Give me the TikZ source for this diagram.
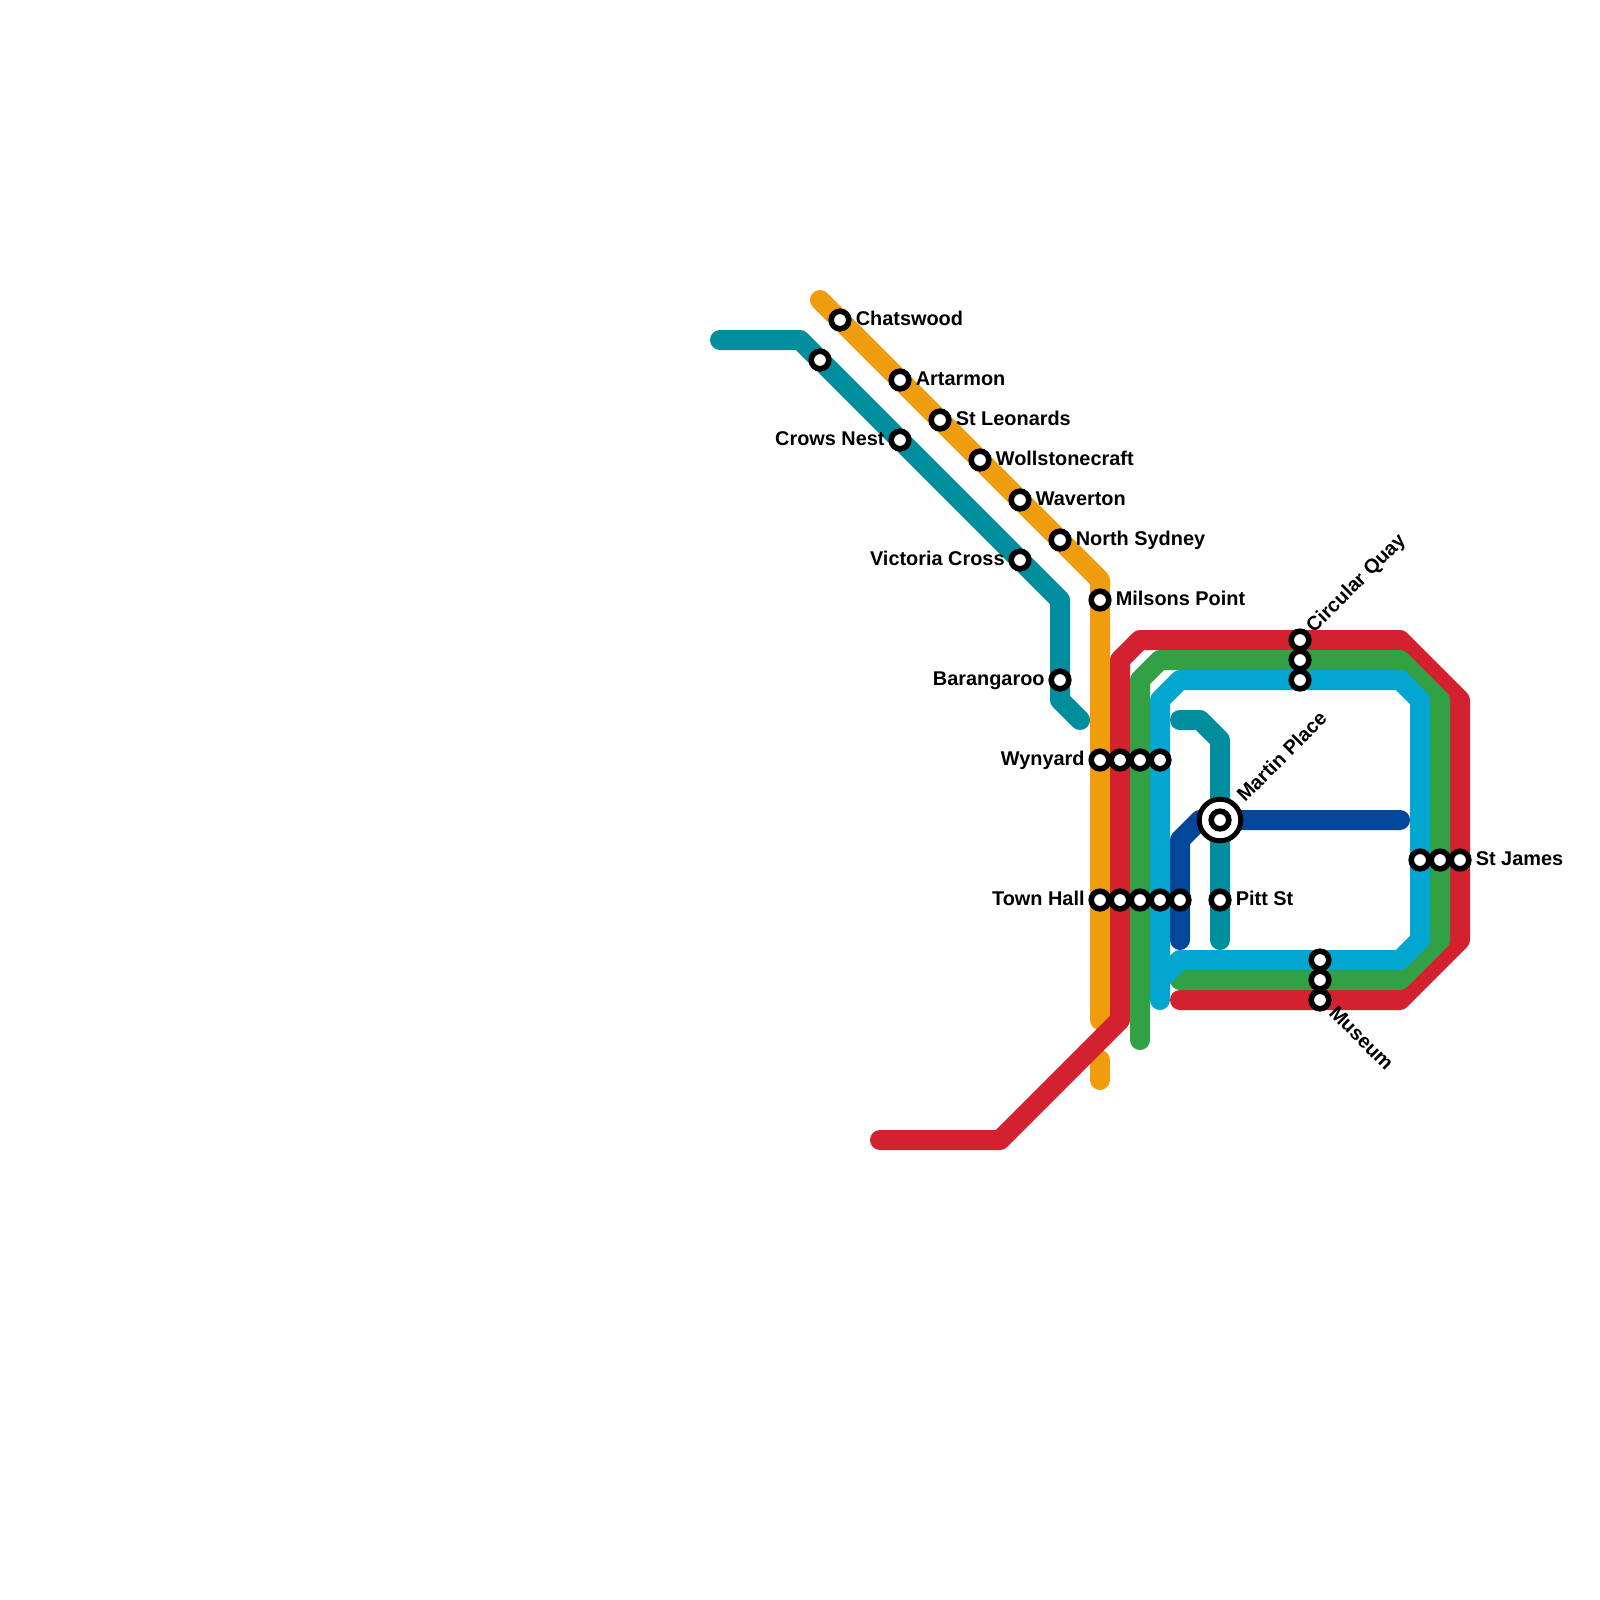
\documentclass[tikz,border=0pt]{standalone}
\usepackage{fontspec}
\setmainfont{Liberation Sans}
\definecolor{mOrange}{HTML}{EF9C0F}
\definecolor{mTeal}{HTML}{008E9F}
\definecolor{mRed}{HTML}{D4212F}
\definecolor{mGreen}{HTML}{32A044}
\definecolor{mBlue}{HTML}{03A6D1}
\definecolor{mNavy}{HTML}{03479A}
\begin{document}
\begin{tikzpicture}[x=5mm, y=-5mm,
  route/.style={line width=5mm, line cap=round, line join=round},
  stn/.style={circle, draw=black, fill=white, line width=1.4mm, minimum size=4.4mm, inner sep=0pt, outer sep=0pt},
  hub/.style={circle, draw=black, fill=white, line width=1.25mm, minimum size=10.4mm, inner sep=0pt, outer sep=0pt},
  stname/.style={font=\fontsize{14.15pt}{16pt}\selectfont\bfseries, inner sep=0pt},
  nameright/.style={stname, anchor=base west, xshift=4.8pt, yshift=-3.8pt},
  nameleft/.style={stname, anchor=base east, xshift=-4.5pt, yshift=-3.8pt},
]
  \useasboundingbox (0,0) rectangle (80,80);
  \fill[white] (0,0) rectangle (80,80);
  % bends and ends of the lines
  \coordinate (o1) at (41,15); \coordinate (o2) at (55,29); \coordinate (o3) at (55,51);
  \coordinate (o4) at (55,53); \coordinate (o5) at (55,54);
  \coordinate (t1) at (36,17); \coordinate (t2) at (40,17); \coordinate (t3) at (53,30);
  \coordinate (t4) at (53,35); \coordinate (t5) at (54,36);
  \coordinate (t6) at (59,36); \coordinate (t7) at (60,36); \coordinate (t8) at (61,37);
  \coordinate (t9) at (61,47);
  \coordinate (r1) at (44,57); \coordinate (r2) at (50,57); \coordinate (r3) at (56,51);
  \coordinate (r4) at (56,33); \coordinate (r5) at (57,32); \coordinate (r6) at (70,32);
  \coordinate (r7) at (73,35); \coordinate (r8) at (73,47); \coordinate (r9) at (70,50);
  \coordinate (r10) at (59,50);
  \coordinate (g1) at (57,52); \coordinate (g2) at (57,34); \coordinate (g3) at (58,33);
  \coordinate (g4) at (70,33); \coordinate (g5) at (72,35); \coordinate (g6) at (72,47);
  \coordinate (g7) at (70,49); \coordinate (g8) at (59,49);
  \coordinate (b1) at (58,50); \coordinate (b2) at (58,35); \coordinate (b3) at (59,34);
  \coordinate (b4) at (70,34); \coordinate (b5) at (71,35); \coordinate (b6) at (71,47);
  \coordinate (b7) at (70,48); \coordinate (b8) at (59,48); \coordinate (b9) at (58,49);
  \coordinate (n1) at (59,47); \coordinate (n2) at (59,42); \coordinate (n3) at (60,41);
  \coordinate (n4) at (70,41);
  % lines
  \draw[route, mOrange] (o1) -- (o2) -- (o3);
  \draw[route, mOrange] (o4) -- (o5);
  \draw[route, mTeal] (t1) -- (t2) -- (t3) -- (t4) -- (t5);
  \draw[route, mTeal] (t6) -- (t7) -- (t8) -- (t9);
  \draw[route, mRed] (r1) -- (r2) -- (r3) -- (r4) -- (r5) -- (r6) -- (r7) -- (r8) -- (r9) -- (r10);
  \draw[route, mGreen] (g1) -- (g2) -- (g3) -- (g4) -- (g5) -- (g6) -- (g7) -- (g8);
  \draw[route, mBlue] (b1) -- (b2) -- (b3) -- (b4) -- (b5) -- (b6) -- (b7) -- (b8) -- (b9);
  \draw[route, mNavy] (n1) -- (n2) -- (n3) -- (n4);
  % stations
  \node[stn] (chatswood) at (42,16) {};
  \node[stn] (artarmon) at (45,19) {};
  \node[stn] (stleonards) at (47,21) {};
  \node[stn] (wollstonecraft) at (49,23) {};
  \node[stn] (waverton) at (51,25) {};
  \node[stn] (northsydney) at (53,27) {};
  \node[stn] (milsons) at (55,30) {};
  \node[stn] (tealtop) at (41,18) {};
  \node[stn] (crowsnest) at (45,22) {};
  \node[stn] (victoriacross) at (51,28) {};
  \node[stn] (barangaroo) at (53,34) {};
  \node[stn] (wynyardA) at (55,38) {};
  \node[stn] (wynyardB) at (56,38) {};
  \node[stn] (wynyardC) at (57,38) {};
  \node[stn] (wynyardD) at (58,38) {};
  \node[stn] (townhallA) at (55,45) {};
  \node[stn] (townhallB) at (56,45) {};
  \node[stn] (townhallC) at (57,45) {};
  \node[stn] (townhallD) at (58,45) {};
  \node[stn] (townhallE) at (59,45) {};
  \node[stn] (pittst) at (61,45) {};
  \node[hub] (martinouter) at (61,41) {};
  \node[stn] (martinplace) at (61,41) {};
  \node[stn] (quayA) at (65,32) {};
  \node[stn] (quayB) at (65,33) {};
  \node[stn] (quayC) at (65,34) {};
  \node[stn] (museumA) at (66,48) {};
  \node[stn] (museumB) at (66,49) {};
  \node[stn] (museumC) at (66,50) {};
  \node[stn] (jamesA) at (71,43) {};
  \node[stn] (jamesB) at (72,43) {};
  \node[stn] (jamesC) at (73,43) {};
  % station names
  \node[nameright] (chatswoodname) at (chatswood.east) {Chatswood};
  \node[nameright] (artarmonname) at (artarmon.east) {Artarmon};
  \node[nameright] (stleonardsname) at (stleonards.east) {St Leonards};
  \node[nameright] (wollstonecraftname) at (wollstonecraft.east) {Wollstonecraft};
  \node[nameright] (wavertonname) at (waverton.east) {Waverton};
  \node[nameright] (northsydneyname) at (northsydney.east) {North Sydney};
  \node[nameright] (milsonsname) at (milsons.east) {Milsons Point};
  \node[nameright] (pittstname) at (pittst.east) {Pitt St};
  \node[nameright] (jamesname) at (jamesC.east) {St James};
  \node[nameleft] (crowsnestname) at (crowsnest.west) {Crows Nest};
  \node[nameleft] (victorianame) at (victoriacross.west) {Victoria Cross};
  \node[nameleft] (barangarooname) at (barangaroo.west) {Barangaroo};
  \node[nameleft] (wynyardname) at (wynyardA.west) {Wynyard};
  \node[nameleft] (townhallname) at (townhallA.west) {Town Hall};
  \node[stname, anchor=base west, rotate=45] (quayname) at (65.7,31.7) {Circular Quay};
  \node[stname, anchor=base west, rotate=45] (martinname) at (62.25,40.15) {Martin Place};
  \node[stname, anchor=base west, rotate=-45] (museumname) at (66.4,50.7) {Museum};
\end{tikzpicture}
\end{document}
